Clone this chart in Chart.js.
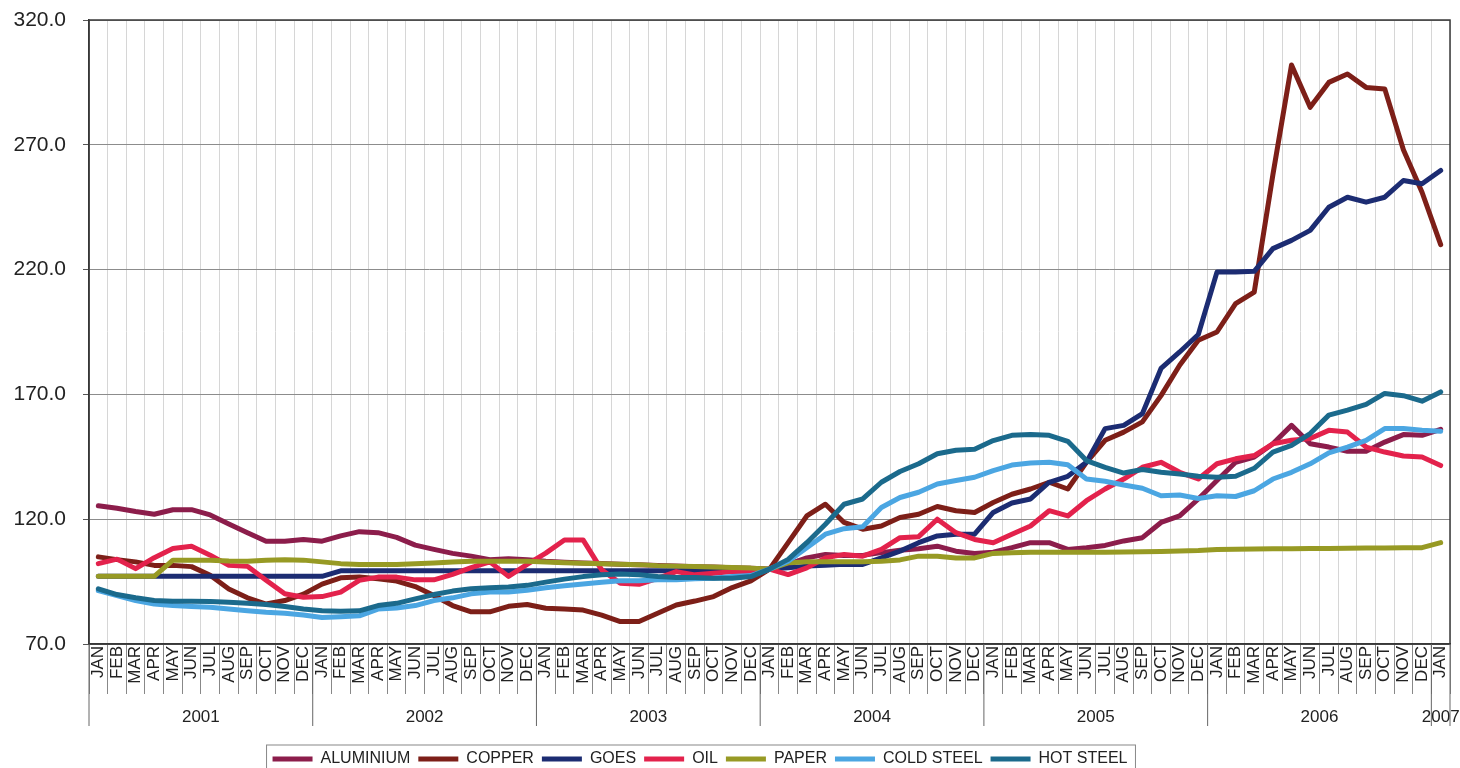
<!DOCTYPE html>
<html>
<head>
<meta charset="utf-8">
<script src="https://cdn.jsdelivr.net/npm/chart.js@4.4.0/dist/chart.umd.min.js"></script>
<style>
  html, body { margin: 0; padding: 0; background: #fff; }
  #wrap { width: 1460px; height: 768px; }
</style>
</head>
<body>
<div id="wrap"><canvas id="chart" width="1460" height="768"></canvas></div>
<script>
const months = ['JAN', 'FEB', 'MAR', 'APR', 'MAY', 'JUN', 'JUL', 'AUG', 'SEP', 'OCT', 'NOV', 'DEC'];
const years = ['2001', '2002', '2003', '2004', '2005', '2006', '2007'];
const yTicks = [70, 120, 170, 220, 270, 320];

// one label per month, JAN 2001 .. JAN 2007
const labels = [];
years.forEach((y, yi) => {
    const n = yi === years.length - 1 ? 1 : 12;
    for (let m = 0; m < n; m++) labels.push(months[m]);
});

const aluminium = [
    125.4, 124.4, 123.1, 122.0, 123.8, 123.8, 121.7, 118.1, 114.6, 111.2, 111.2, 111.9,
    111.2, 113.3, 115.0, 114.6, 112.7, 109.6, 107.9, 106.3, 105.2, 103.8, 104.2, 103.8,
    103.2, 102.8, 102.5, 102.3, 102.0, 101.8, 101.5, 101.3, 101.0, 100.8, 100.5, 100.3,
    100.0, 101.9, 104.5, 105.9, 105.5, 105.5, 106.6, 107.6, 108.2, 109.2, 107.2, 106.3,
    106.8, 108.6, 110.6, 110.6, 107.9, 108.6, 109.5, 111.3, 112.6, 118.7, 121.3, 128.1,
    135.5, 142.8, 144.9, 150.2, 157.6, 150.2, 148.9, 147.2, 147.2, 150.9, 153.9, 153.6,
    156.0
];
const copper = [
    104.9, 103.8, 102.9, 101.5, 101.5, 101.0, 97.5, 92.0, 88.5, 86.0, 87.4, 90.0,
    94.0, 96.5, 96.8, 96.1, 95.2, 93.0, 89.4, 85.4, 82.9, 82.9, 85.1, 85.8,
    84.3, 84.0, 83.6, 81.6, 79.0, 79.0, 82.3, 85.6, 87.2, 89.0, 92.6, 95.3,
    100.0, 110.6, 121.3, 126.0, 118.7, 116.0, 117.3, 120.7, 122.0, 125.1, 123.4, 122.7,
    126.7, 130.0, 132.1, 134.8, 132.1, 142.8, 151.6, 154.9, 159.0, 169.5, 181.7, 191.7,
    195.0, 206.4, 211.0, 258.0, 302.0, 285.0, 295.0, 298.4, 293.0, 292.4, 268.0, 251.0,
    230.0
];
const goes = [
    97.1, 97.1, 97.1, 97.1, 97.1, 97.1, 97.1, 97.1, 97.1, 97.1, 97.1, 97.1,
    97.1, 99.3, 99.3, 99.3, 99.3, 99.3, 99.3, 99.3, 99.3, 99.3, 99.3, 99.3,
    99.3, 99.3, 99.3, 99.3, 99.3, 99.3, 99.3, 99.3, 99.3, 99.3, 99.3, 99.3,
    100.0, 100.5, 101.2, 101.5, 101.9, 101.9, 104.5, 107.2, 110.6, 113.3, 114.0, 114.0,
    122.7, 126.5, 128.1, 134.8, 137.2, 142.8, 156.3, 157.6, 162.3, 180.4, 187.0, 194.0,
    219.0, 219.0, 219.3, 228.4, 231.7, 235.7, 245.0, 249.0, 247.0, 249.0, 255.7, 254.4,
    259.7
];
const oil = [
    102.2, 104.0, 100.2, 104.6, 108.3, 109.2, 105.6, 101.5, 101.1, 95.5, 90.1, 88.7,
    89.0, 90.8, 95.5, 96.8, 96.8, 95.7, 95.7, 97.9, 100.6, 102.9, 97.1, 101.9,
    106.4, 111.7, 111.7, 99.7, 94.3, 93.9, 96.3, 99.0, 97.7, 98.3, 99.0, 99.0,
    100.0, 97.8, 100.5, 104.5, 105.9, 105.2, 107.9, 112.6, 113.0, 120.0, 114.6, 111.9,
    110.6, 114.0, 117.3, 123.4, 121.3, 127.4, 132.1, 136.1, 140.8, 142.8, 138.8, 136.1,
    142.2, 144.2, 145.5, 150.2, 151.6, 152.3, 155.6, 154.9, 148.9, 146.9, 145.3, 144.9,
    141.5
];
const paper = [
    97.1, 97.1, 97.1, 97.1, 103.6, 103.6, 103.6, 103.3, 103.2, 103.6, 103.8, 103.6,
    102.9, 102.2, 101.9, 101.9, 101.9, 102.2, 102.5, 102.9, 103.2, 103.2, 103.2, 103.2,
    102.9, 102.6, 102.4, 102.2, 102.0, 101.8, 101.4, 101.2, 101.0, 100.8, 100.6, 100.4,
    100.0, 102.5, 103.0, 103.0, 103.0, 103.0, 103.2, 103.7, 105.2, 105.2, 104.5, 104.5,
    106.3, 106.6, 106.8, 106.8, 106.8, 106.8, 106.8, 106.9, 107.0, 107.1, 107.3, 107.5,
    107.9, 108.0, 108.1, 108.2, 108.2, 108.3, 108.3, 108.4, 108.5, 108.5, 108.6, 108.6,
    110.6
];
const coldSteel = [
    91.4, 89.4, 87.4, 86.0, 85.4, 85.0, 84.7, 84.0, 83.3, 82.7, 82.3, 81.6,
    80.6, 80.9, 81.3, 84.0, 84.4, 85.4, 87.4, 88.5, 90.1, 90.8, 90.8, 91.5,
    92.5, 93.3, 94.0, 94.7, 95.3, 95.3, 95.7, 95.7, 96.1, 96.3, 97.0, 97.4,
    100.0, 103.2, 108.6, 114.0, 116.2, 117.0, 124.7, 128.7, 130.8, 134.1, 135.5, 136.8,
    139.5, 141.7, 142.5, 142.8, 141.8, 136.1, 135.2, 133.7, 132.4, 129.4, 129.7, 128.3,
    129.4, 129.1, 131.4, 136.1, 138.8, 142.2, 146.6, 148.9, 151.6, 156.3, 156.3, 155.6,
    155.2
];
const hotSteel = [
    92.1, 89.8, 88.5, 87.4, 87.1, 87.1, 87.0, 86.7, 86.3, 85.8, 85.0, 84.0,
    83.3, 83.1, 83.3, 85.4, 86.3, 88.1, 89.8, 91.2, 92.1, 92.5, 92.8, 93.5,
    94.8, 96.0, 97.0, 97.7, 98.0, 97.7, 97.0, 96.6, 96.6, 96.3, 96.3, 97.0,
    100.0, 103.9, 110.6, 118.0, 126.0, 128.1, 134.8, 139.1, 142.2, 146.2, 147.6, 148.0,
    151.5, 153.6, 153.9, 153.6, 151.2, 143.5, 140.8, 138.5, 139.9, 138.8, 138.1, 137.2,
    136.8, 137.2, 140.4, 146.9, 149.6, 154.3, 161.7, 163.7, 166.0, 170.4, 169.5, 167.3,
    171.0
];

const seriesNames = ['ALUMINIUM', 'COPPER', 'GOES', 'OIL', 'PAPER', 'COLD STEEL', 'HOT STEEL'];
const seriesData = [aluminium, copper, goes, oil, paper, coldSteel, hotSteel];
const seriesColors = ['#8c1d4b', '#7d1f18', '#1c2c72', '#e3224c', '#979a24', '#4ba6e2', '#1b6a8c'];

const font = '"Liberation Sans", Arial, sans-serif';

// year brackets under the month labels, plot border and legend frame
const axisDecor = {
    id: 'axisDecor',
    afterLayout(chart) {
        const lg = chart.legend;
        lg.left -= 25;
        lg.right -= 25;
        lg.top += 9;
        lg.bottom += 9;
    },
    afterDraw(chart) {
        const {ctx, chartArea: a} = chart;
        const x = chart.scales.x;
        const half = (x.getPixelForValue(1) - x.getPixelForValue(0)) / 2;
        ctx.save();
        ctx.strokeStyle = '#3a3a3a';
        ctx.lineWidth = 1.5;
        ctx.strokeRect(a.left, a.top, a.right - a.left, a.bottom - a.top);

        ctx.strokeStyle = '#666';
        ctx.lineWidth = 1;
        ctx.font = '17px ' + font;
        ctx.fillStyle = '#222';
        ctx.textAlign = 'center';
        ctx.textBaseline = 'middle';
        years.forEach((y, yi) => {
            const first = yi * 12;
            const last = Math.min(first + 11, labels.length - 1);
            const x0 = x.getPixelForValue(first) - half;
            const x1 = x.getPixelForValue(last) + half;
            ctx.beginPath();
            ctx.moveTo(x0, a.bottom);
            ctx.lineTo(x0, a.bottom + 82);
            ctx.stroke();
            if (yi === years.length - 1) {
                ctx.beginPath();
                ctx.moveTo(x1, a.bottom);
                ctx.lineTo(x1, a.bottom + 82);
                ctx.stroke();
            }
            ctx.fillText(y, (x0 + x1) / 2, a.bottom + 73);
        });

        const boxes = chart.legend.legendHitBoxes;
        if (boxes && boxes.length) {
            const l = boxes[0].left - 6;
            const r = boxes[boxes.length - 1].left + boxes[boxes.length - 1].width + 8;
            const t = boxes[0].top - 6;
            ctx.strokeStyle = '#888';
            ctx.strokeRect(l, t, r - l, 60);
        }
        ctx.restore();
    }
};

const datasets = seriesNames.map((name, i) => ({
    label: name,
    data: seriesData[i],
    borderColor: seriesColors[i],
    backgroundColor: seriesColors[i],
    borderWidth: 5,
    borderCapStyle: 'round',
    borderJoinStyle: 'round',
    pointRadius: 0,
    tension: 0,
    fill: false,
    order: seriesNames.length - i
}));

new Chart(document.getElementById('chart'), {
    type: 'line',
    data: {labels, datasets},
    options: {
        responsive: false,
        animation: false,
        devicePixelRatio: 1,
        layout: {padding: {top: 20, right: 10, left: 0, bottom: 0}},
        plugins: {
            tooltip: {enabled: false},
            legend: {
                position: 'bottom',
                labels: {
                    usePointStyle: true,
                    pointStyle: 'line',
                    pointStyleWidth: 40,
                    padding: 8,
                    color: '#222',
                    font: {family: font, size: 16},
                    sort: (a, b) => a.datasetIndex - b.datasetIndex
                }
            }
        },
        scales: {
            x: {
                offset: true,
                grid: {color: '#d6d6d6', lineWidth: 1, tickLength: 50, tickColor: '#888', offset: true},
                border: {color: '#333', width: 1.5},
                ticks: {
                    autoSkip: false,
                    maxRotation: 90,
                    minRotation: 90,
                    padding: -48,
                    color: '#222',
                    font: {family: font, size: 17}
                },
                afterFit: s => { s.height = 90; }
            },
            y: {
                min: 70,
                max: 320,
                afterBuildTicks: s => { s.ticks = yTicks.map(v => ({value: v})); },
                ticks: {
                    callback: v => Number(v).toFixed(1),
                    padding: 17,
                    color: '#222',
                    font: {family: font, size: 21}
                },
                grid: {color: '#8c8c8c', tickLength: 6, tickColor: '#555'},
                border: {color: '#333', width: 1.5},
                afterFit: s => {
                    s.width = 89;
                    s.paddingTop = 0;
                    s.paddingBottom = 0;
                }
            }
        }
    },
    plugins: [axisDecor]
});
</script>
</body>
</html>
